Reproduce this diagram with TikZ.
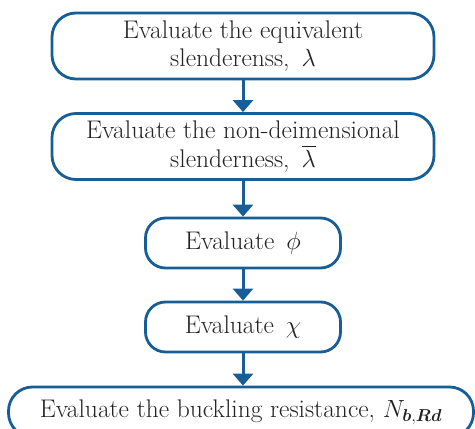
\documentclass[tikz,border=0pt]{standalone}
\usepackage{amsmath}
\usepackage{bm}
\usetikzlibrary{arrows.meta}
\definecolor{flowblue}{RGB}{24,94,150}
\definecolor{inktext}{RGB}{35,35,35}
% math symbols set a little larger than the surrounding text
\newcommand{\bigsym}[1]{{\fontsize{29}{28.5}\selectfont$#1$}}
\begin{document}
\begin{tikzpicture}[x=1pt,y=-1pt,
  stepbox/.style={draw=flowblue, line width=2.8pt, rectangle, rounded corners=#1,
    inner sep=0pt, align=center, text=inktext,
    font=\fontsize{25.5}{28.5}\selectfont},
  bigbox/.style={stepbox=24pt, minimum width=382pt, minimum height=66pt},
  smallbox/.style={stepbox=20pt, minimum width=195pt, minimum height=50pt},
  flow/.style={draw=flowblue, line width=3pt,
    -{Triangle[width=20pt,length=12pt]}}]
\useasboundingbox (0,0) rectangle (475,429);
\clip (0,0) rectangle (475,429);

\node[bigbox] (eq) at (243,46)
  {Evaluate the equivalent\\slenderenss,~\,\bigsym{\lambda}};
\node[bigbox] (nd) at (243,146.5)
  {Evaluate the non-deimensional\\slenderness,~\,\bigsym{\overline{\lambda}}};
\node[smallbox] (phi) at (243,243) {Evaluate~\,\bigsym{\phi}};
\node[smallbox] (chi) at (243,327) {Evaluate~\,\bigsym{\chi}};
\node[stepbox=24pt, minimum width=465pt, minimum height=50pt] (nb) at (241,412)
  {Evaluate the buckling resistance,~{\fontsize{27}{28.5}\selectfont$N_{\bm{b},\bm{Rd}}$}};

\draw[flow] (eq) -- (nd);
\draw[flow] (nd) -- (phi);
\draw[flow] (phi) -- (chi);
\draw[flow] (chi) -- (nb.north -| chi.south);
\end{tikzpicture}
\end{document}
